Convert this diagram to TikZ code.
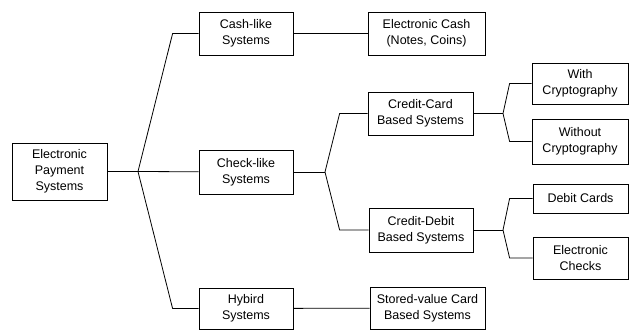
\documentclass[tikz,border=0pt]{standalone}
\usepackage{fontspec}
\setmainfont{Liberation Sans}
\usetikzlibrary{positioning}

\begin{document}
\begin{tikzpicture}[x=1pt, y=-1pt,
    sys/.style={draw, line width=0.8pt, align=center, inner sep=0pt, font=\fontsize{12.5}{16}\selectfont},
    con/.style={line width=0.8pt}
  ]
    \useasboundingbox (0,0) rectangle (629,330);

    \node[sys, minimum width=95pt, minimum height=57pt] (eps) at (59.5,171.5) {Electronic\\Payment\\Systems};

    \node[sys, minimum width=94pt, minimum height=43pt] (cash) at (246,33.5) {Cash-like\\Systems};
    \node[sys, minimum width=94pt, minimum height=44pt] (check) at (246,172) {Check-like\\Systems};
    \node[sys, minimum width=94pt, minimum height=41pt] (hyb) at (246,308.5) {Hybird\\Systems};

    \node[sys, minimum width=117pt, minimum height=43pt] (ecash) at (426.5,33.5) {Electronic Cash\\(Notes, Coins)};
    \node[sys, minimum width=105pt, minimum height=43pt] (ccard) at (420.5,113.5) {Credit-Card\\Based Systems};
    \node[sys, minimum width=104pt, minimum height=44pt] (cdebit) at (421,230) {Credit-Debit\\Based Systems};
    \node[sys, minimum width=115pt, minimum height=42pt] (svc) at (427.5,308) {Stored-value Card\\Based Systems};

    \node[sys, minimum width=96pt, minimum height=41pt] (withc) at (580,83.5) {With\\Cryptography};
    \node[sys, minimum width=96pt, minimum height=45pt] (woc) at (580,141.5) {Without\\Cryptography};
    \node[sys, minimum width=95pt, minimum height=29pt] (debit) at (580.5,198.5) {Debit Cards};
    \node[sys, minimum width=95pt, minimum height=42pt] (echk) at (580.5,258) {Electronic\\Checks};

    % fork points
    \coordinate (f1) at (138,171.5);
    \coordinate (f2) at (325,172);
    \coordinate (f3) at (503,113.5);
    \coordinate (f4) at (503,230);

    \draw[con] (eps) -- (f1) -- (check);
    \draw[con] (f1) -- ([xshift=-26pt]cash.west) -- (cash.west);
    \draw[con] (f1) -- ([xshift=-26pt]hyb.west) -- (hyb.west);
    \draw[con] (cash) -- (ecash);
    \draw[con] (hyb) -- (svc);

    \draw[con] (check) -- (f2);
    \draw[con] (f2) -- ([xshift=-28pt]ccard.west) -- (ccard.west);
    \draw[con] (f2) -- ([xshift=-29pt]cdebit.west) -- (cdebit.west);

    \draw[con] (ccard) -- (f3);
    \draw[con] (f3) -- ([xshift=-22pt]withc.west) -- (withc.west);
    \draw[con] (f3) -- ([xshift=-22pt]woc.west) -- (woc.west);

    \draw[con] (cdebit) -- (f4);
    \draw[con] (f4) -- ([xshift=-23pt]debit.west) -- (debit.west);
    \draw[con] (f4) -- ([xshift=-23pt]echk.west) -- (echk.west);
  \end{tikzpicture}
\end{document}
